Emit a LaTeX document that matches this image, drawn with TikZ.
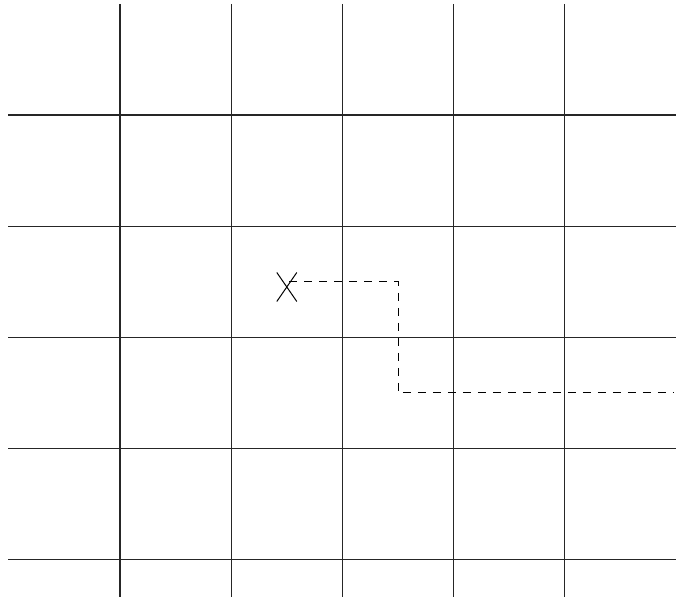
\documentclass[tikz,border=0pt]{standalone}
\usetikzlibrary{shapes.misc}

\begin{document}
\begin{tikzpicture}[
    x=0.5pt, y=-0.5pt,
    gridline/.style={draw=black!85, line width=0.6pt},
    route/.style={draw=black, line width=0.5pt, dash pattern=on 4pt off 3.5pt},
    startmark/.style={cross out, draw=black, line width=0.5pt, minimum width=9.5pt, minimum height=14pt, inner sep=0pt}
]
\useasboundingbox (0,0) rectangle (686,597);

% Grid
\foreach \i in {0,...,4} {
    \draw [gridline] (120+111.2*\i,4) -- (120+111.2*\i,597);
    \draw [gridline] (8,115+111.2*\i) -- (676,115+111.2*\i);
}

% Start and route
\node (start) [startmark] at (286.8,287) {};
\coordinate (s) at (289,281.8);
\coordinate (c1) at (398,281.8);
\coordinate (c2) at (398,393);
\coordinate (e) at (673,393);
\draw [route] (s) -- (c1) -- (c2) -- (e);

\end{tikzpicture}
\end{document}
